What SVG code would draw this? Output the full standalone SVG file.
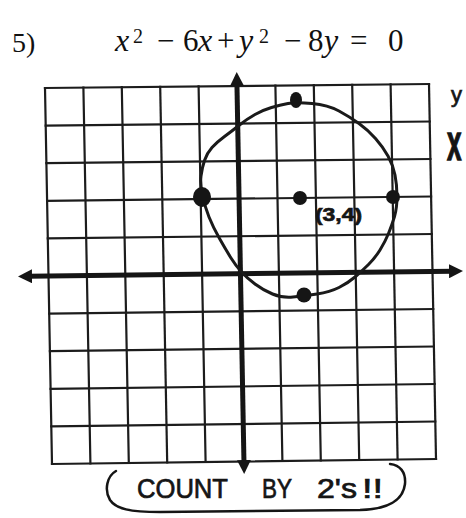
<svg xmlns="http://www.w3.org/2000/svg" width="466" height="518" viewBox="0 0 466 518">
<style>
.grid line{stroke:#1c1c1c;stroke-width:2.2;stroke-linecap:square}
.axis{stroke:#151515;stroke-width:5;fill:none}
.curve{stroke:#1a1a1a;stroke-width:3;fill:none;stroke-linejoin:round}
.dot{fill:#151515}
.eq{font-family:"Liberation Serif","Times New Roman",serif;font-size:31px;fill:#111}
.eqi{font-family:"Liberation Serif","Times New Roman",serif;font-size:32px;font-style:italic;fill:#111}
.sup{font-family:"Liberation Serif","Times New Roman",serif;font-size:20px;fill:#111}
.hand{font-family:"Liberation Sans","DejaVu Sans",sans-serif;fill:#151515;stroke:#151515;stroke-width:0.7}
</style>
<defs>
<marker id="arr" viewBox="0 0 14 14" refX="4" refY="7" markerWidth="14" markerHeight="14" markerUnits="userSpaceOnUse" orient="auto-start-reverse">
<path d="M0,0 L14,7 L0,14 z" fill="#151515"/>
</marker>
</defs>
<rect width="466" height="518" fill="#ffffff"/>

<g id="title">
<text class="eq" x="12" y="52" style="font-size:28px">5)</text>
<text class="eqi" x="115" y="51">x</text>
<text class="sup" x="133" y="43">2</text>
<text class="eq" x="157" y="51">−</text>
<text class="eq" x="183" y="51">6</text>
<text class="eqi" x="198" y="51">x</text>
<text class="eq" x="217" y="51">+</text>
<text class="eqi" x="239" y="51">y</text>
<text class="sup" x="259" y="43">2</text>
<text class="eq" x="284" y="51">−</text>
<text class="eq" x="308" y="51">8</text>
<text class="eqi" x="324" y="51">y</text>
<text class="eq" x="350" y="51">=</text>
<text class="eq" x="388" y="51">0</text>
</g>

<g id="grid" class="grid">
<line x1="45" y1="88" x2="52" y2="464"/>
<line x1="83.4" y1="87.6" x2="90.4" y2="463.5"/>
<line x1="121.8" y1="87.2" x2="128.8" y2="463"/>
<line x1="160.2" y1="86.8" x2="167.2" y2="462.5"/>
<line x1="198.6" y1="86.4" x2="205.6" y2="462"/>
<line x1="275.4" y1="85.6" x2="282.4" y2="461"/>
<line x1="313.8" y1="85.2" x2="320.8" y2="460.5"/>
<line x1="352.2" y1="84.8" x2="359.2" y2="460"/>
<line x1="390.6" y1="84.4" x2="397.6" y2="459.5"/>
<line x1="429" y1="84" x2="436" y2="459"/>
<line x1="45" y1="88" x2="429" y2="84"/>
<line x1="45.7" y1="125.6" x2="429.7" y2="121.5"/>
<line x1="46.4" y1="163.2" x2="430.4" y2="159"/>
<line x1="47.1" y1="200.8" x2="431.1" y2="196.5"/>
<line x1="47.8" y1="238.4" x2="431.8" y2="234"/>
<line x1="49.2" y1="313.6" x2="433.2" y2="309"/>
<line x1="49.9" y1="351.2" x2="433.9" y2="346.5"/>
<line x1="50.6" y1="388.8" x2="434.6" y2="384"/>
<line x1="51.3" y1="426.4" x2="435.3" y2="421.5"/>
<line x1="52" y1="464" x2="436" y2="459"/>
</g>

<g id="axes">
<line class="axis" x1="28" y1="276.3" x2="453" y2="271.2" marker-start="url(#arr)" marker-end="url(#arr)"/>
<line class="axis" x1="244" y1="464" x2="236.9" y2="82" marker-start="url(#arr)" marker-end="url(#arr)"/>
</g>

<g id="circle">
<path class="curve" d="M288,103.5 Q296,102 312,103.5 Q328,105 339,111 Q350,117 359,123.5 Q368,130 375.5,138.5 Q383,147 388,156 Q393,165 395,175 Q397,185 397,196.5 Q397,208 394.5,216.5 Q392,225 388.5,233.5 Q385,242 380,250 Q375,258 368.5,264.5 Q362,271 355,277 Q348,283 339,287.5 Q330,292 317,294 Q304,296 293,297 Q282,298 272.5,294 Q263,290 255,284 Q247,278 241.5,272 Q236,266 231,258 Q226,250 219.5,238.5 Q213,227 209,217 Q205,207 202.5,195.5 Q200,184 201,176 Q202,168 204.5,160.5 Q207,153 212,147.5 Q217,142 224.5,136.5 Q232,131 239.5,125 Q247,119 255,114.5 Q263,110 271.5,107.5 Q280,105 288,103.5 Z"/>
</g>

<g id="points">
<ellipse class="dot" cx="296" cy="100" rx="6" ry="8"/>
<ellipse class="dot" cx="202" cy="197" rx="9" ry="10"/>
<circle class="dot" cx="300" cy="198" r="7"/>
<circle class="dot" cx="393" cy="197" r="7"/>
<circle class="dot" cx="304" cy="295" r="7.5"/>
</g>

<g id="center-label">
<text class="hand" x="315" y="221" font-size="19" font-weight="bold" textLength="47" lengthAdjust="spacingAndGlyphs">(3,4)</text>
</g>

<g id="note">
<path d="M116,471 C107,476 104,490 110,500 C116,509 130,512 160,512 L360,510 C390,509 403,500 405,484 C406,472 400,465 390,464" fill="none" stroke="#151515" stroke-width="2.5" stroke-linecap="round"/>
<text class="hand" x="137" y="498" font-size="27" textLength="91" lengthAdjust="spacingAndGlyphs">COUNT</text>
<text class="hand" x="262" y="498" font-size="27" textLength="30" lengthAdjust="spacingAndGlyphs">BY</text>
<text class="hand" x="317" y="498" font-size="27" textLength="40" lengthAdjust="spacingAndGlyphs">2's</text>
<text class="hand" x="362" y="498" font-size="27" textLength="21" lengthAdjust="spacingAndGlyphs">!!</text>
</g>

<g id="edge-marks">
<text class="hand" x="451" y="102" font-size="22">y</text>
<text class="hand" transform="translate(447,160) scale(1,2)" font-size="26" font-weight="bold">x</text>
</g>
</svg>
